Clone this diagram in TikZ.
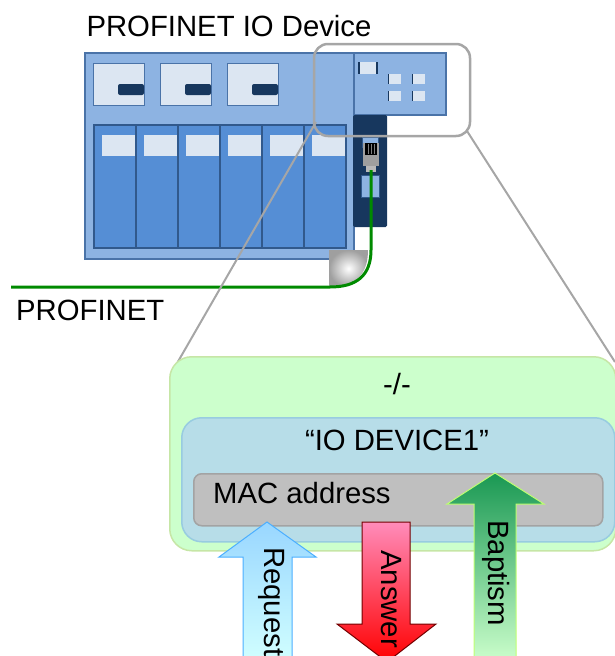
\documentclass[tikz,border=0pt]{standalone}
\usepackage{fontspec}
\setmainfont{Liberation Sans}
\definecolor{devblue}{HTML}{8DB3E2}
\definecolor{devedge}{HTML}{4A73A8}
\definecolor{modblue}{HTML}{558ED5}
\definecolor{modedge}{HTML}{31598C}
\definecolor{pale}{HTML}{DCE6F2}
\definecolor{navy}{HTML}{17375E}
\definecolor{cablegreen}{HTML}{008A00}
\definecolor{lensgray}{HTML}{A6A6A6}
\definecolor{zoomfill}{HTML}{CCFFCC}
\definecolor{zoomedge}{HTML}{C6E6A6}
\definecolor{namefill}{HTML}{B7DDE8}
\definecolor{nameedge}{HTML}{98CCE0}
\definecolor{macfill}{HTML}{BFBFBF}
\definecolor{macedge}{HTML}{A3A3A3}
\tikzset{
  devbox/.style={fill=devblue,draw=devedge,line width=1.2},
  module/.style={fill=modblue,draw=modedge,line width=1.2},
  pal/.style={fill=pale,draw=devedge,line width=0.6},
  port/.style={fill=devblue,draw=modedge,line width=1},
  cable/.style={draw=cablegreen,line width=3},
  lens/.style={draw=lensgray,line width=2.5,rounded corners=14},
  lensline/.style={draw=lensgray,line width=2},
  label/.style={inner sep=0},
  vlabel/.style={rotate=-90,anchor=west,inner sep=0},
  request/.style={top color=blue!40!cyan!40,bottom color=cyan!18,draw=blue!45!cyan!70,line width=1},
  answer/.style={top color=magenta!40!red!45,bottom color=red,draw=red!45!black,line width=1},
  baptism/.style={top color=green!40!black!75!cyan!90,bottom color=green!20,draw=green!45!yellow!55,line width=1}
}
\begin{document}
\begin{tikzpicture}[x=1pt,y=-1pt,font=\fontsize{29.3}{35}\selectfont]
\useasboundingbox (0,0) rectangle (615,656);
\clip (0,0) rectangle (615,656);

\filldraw[devbox] (85,53) rectangle (354,259);
\filldraw[devbox] (354,53) rectangle (446,115);
\foreach \x in {93,160,227}
{
  \filldraw[pal] (\x,63) rectangle +(51,42);
  \fill[navy,rounded corners=2] (\x+25,84) rectangle (\x+51,95);
}
\foreach \i in {0,...,5}
{
  \filldraw[module] (94+42*\i,125) rectangle +(42,123);
  \fill[pale] (102+42*\i,135) rectangle +(33,21);
}
\fill[pale] (359,62) rectangle (377,74);
\draw[navy,line width=1.2] (359,62) -- (359,74) (377,62) -- (377,74);
\foreach \x in {388,412}
  \foreach \y in {74,91}
  {
    \fill[pale] (\x,\y) rectangle +(13,10);
    \draw[navy,line width=1] (\x,\y) -- +(0,10);
  }
\fill[navy,rounded corners=1.5] (353,115) rectangle (387,227);
\filldraw[port] (362,137) rectangle (378,147);
\filldraw[port] (361,175) rectangle (379,197);
\fill[gray!75] (363,143) rectangle (379,166);
\fill[gray!55] (366,166) rectangle (376,172);
\fill[black] (365,143) rectangle (377,155);
\draw[gray,line width=0.6] (368,144) -- (368,154) (371,144) -- (371,154) (374,144) -- (374,154);

\shade[inner color=white,outer color=gray!75] (329,250) -- (368,250) .. controls (368,275) and (355,287) .. (329,287) -- cycle;
\coordinate (plug) at (371,170);
\coordinate (netend) at (11,287);
\draw[cable] (plug) -- (371,250) .. controls (371,276) and (356,287) .. (330,287) -- (netend);

\node[label,anchor=base] (title) at (229,36) {PROFINET IO Device};
\node[label,anchor=base west] (net) at (16,320) {PROFINET};

\draw[lens] (314,44) rectangle (470,136);
\coordinate (lensL) at (316,122);
\coordinate (lensR) at (467,131);
\coordinate (zoomL) at (172,372);
\coordinate (zoomR) at (615,362);
\draw[lensline] (lensL) -- (zoomL);
\draw[lensline] (lensR) -- (zoomR);

\node[fill=zoomfill,draw=zoomedge,line width=1.5,rounded corners=22,minimum width=446,minimum height=194,anchor=north west] (zoombox) at (169,356) {};
\node[fill=namefill,draw=nameedge,line width=1.5,rounded corners=20,minimum width=433,minimum height=124,anchor=north west] (namebox) at (181,417) {};
\node[fill=macfill,draw=macedge,line width=1.5,rounded corners=8,minimum width=409,minimum height=52,anchor=north west] (macbox) at (193,473) {};
\node[label,anchor=base] (empty) at (397,394) {-/-};
\node[label,anchor=base] (devname) at (397,450) {“IO DEVICE1”};
\node[label,anchor=base west] (mac) at (213,503) {MAC address};

\shadedraw[request] (243,662) -- (243,557) -- (219,557) -- (267,522) -- (316,557) -- (292,557) -- (292,662);
\shadedraw[answer] (362,522) -- (362,624) -- (337,624) -- (387,662) -- (436,624) -- (410,624) -- (410,522) -- cycle;
\shadedraw[baptism] (474,662) -- (474,504) -- (447,504) -- (495,473) -- (544,504) -- (516,504) -- (516,662);
\node[vlabel] (req) at (272,547) {Request};
\node[vlabel] (ans) at (391,550) {Answer};
\node[vlabel] (bap) at (496,520) {Baptism};
\end{tikzpicture}
\end{document}
